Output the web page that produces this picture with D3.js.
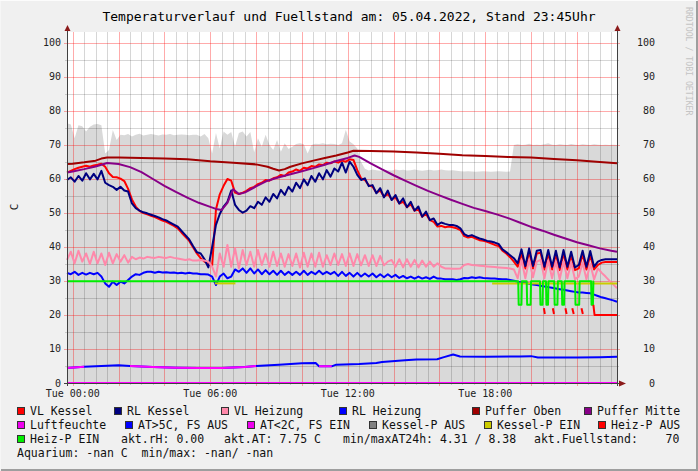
<!DOCTYPE html>
<html><head><meta charset="utf-8">
<script src="https://cdn.jsdelivr.net/npm/d3@7"></script>
<style>
html,body{margin:0;padding:0;background:#f0f0f0;}
svg text{font-family:"DejaVu Sans Mono",monospace;}
</style></head><body>
<svg id="c" width="698" height="471"></svg>
<script>
// ---------- DATA (10-minute samples starting 04.04.2022 23:45) ----------
const vlKessel = [61.9,62.4,62.9,63.3,63.6,63.9,63.6,64.0,64.2,64.5,63.6,61.7,60.6,60.5,60.1,59.4,57.1,54.0,51.9,50.6,50.0,49.6,49.2,48.8,48.3,47.8,47.4,46.8,46.2,45.5,44.2,43.0,41.8,39.9,38.1,
36.7,35.7,35.0,34.5,51.0,55.5,58.0,60.0,59.5,56.0,55.6,56.0,56.5,57.3,57.7,58.5,58.9,59.7,59.5,60.2,60.5,61.2,60.9,61.9,62.2,62.8,62.4,63.3,63.1,63.8,63.6,64.3,64.1,64.8,64.6,65.2,
64.8,65.4,65.1,65.8,65.6,62.6,60.2,59.7,58.2,57.7,56.0,56.6,54.8,55.6,54.0,54.6,52.8,53.3,51.7,52.6,50.7,51.1,48.9,49.7,47.9,47.4,46.0,46.2,45.8,46.0,45.8,45.5,45.0,43.2,42.8,
43.0,42.5,42.0,41.8,41.5,41.1,40.6,40.3,38.9,38.1,37.0,35.7,34.2,38.1,33.7,38.6,33.7,38.1,38.3,33.4,38.1,33.4,37.9,33.2,38.1,33.4,37.6,33.2,33.7,37.9,33.4,37.6,33.4,34.7,35.4,35.6,35.6,35.6,35.6];
const rlKessel = [59.7,60.5,59.2,60.9,59.5,61.7,59.9,61.5,59.9,62.4,58.9,58.2,57.7,56.8,57.7,56.6,56.3,52.8,51.4,50.7,50.2,49.9,49.5,49.1,48.7,48.2,47.8,47.2,46.6,46.0,44.7,43.5,42.2,40.3,38.5,
38.1,36.4,34.0,40.0,46.5,49.7,51.9,53.3,56.6,52.4,50.9,50.1,50.7,52.0,51.4,53.3,52.4,54.6,53.3,55.6,54.3,56.8,55.3,57.7,56.3,58.9,57.3,59.9,58.2,60.9,59.2,61.7,59.9,62.6,60.7,63.1,
62.2,64.8,61.9,65.1,63.6,61.2,59.7,60.2,57.9,58.2,55.8,57.3,54.6,56.6,53.8,55.3,52.8,54.3,51.7,53.3,50.7,51.9,48.9,50.4,47.9,48.4,46.5,47.2,46.8,46.5,46.5,46.2,45.5,43.8,43.2,
43.5,43.0,42.5,42.2,41.8,41.6,41.3,40.9,39.3,38.5,37.6,36.7,35.2,39.3,34.4,39.6,34.4,38.9,39.1,34.2,39.1,34.2,38.9,34.0,39.1,34.2,38.6,34.0,34.7,38.9,34.2,38.8,34.2,35.7,36.2,36.4,36.4,36.4,36.4];
const vlHeizung = [36.2,38.6,35.2,38.9,35.7,38.1,35.0,38.6,35.2,38.1,34.7,38.3,35.2,37.9,35.7,37.6,35.4,37.1,36.4,36.9,36.6,37.1,36.9,36.8,37.1,36.9,36.8,37.1,36.8,36.6,36.4,36.2,36.4,36.0,36.0,
36.2,36.0,35.7,34.2,31.3,38.1,34.2,40.6,34.2,39.6,33.7,39.1,34.7,38.6,34.2,39.1,34.7,38.1,34.2,38.6,34.4,38.1,34.2,37.9,34.4,38.1,34.0,38.3,34.2,38.1,34.2,38.3,34.2,37.6,34.7,38.1,
34.7,37.9,34.4,38.1,34.4,37.9,34.6,37.6,34.4,37.6,34.4,37.4,34.6,35.7,36.2,34.2,36.4,34.0,36.4,34.2,36.2,34.0,36.0,34.2,35.7,34.2,35.2,34.2,33.7,33.7,33.6,33.6,33.7,34.7,35.0,
34.7,34.6,34.5,34.4,34.3,34.2,34.1,34.0,33.9,33.8,33.7,33.4,30.8,36.2,30.8,36.2,31.1,35.7,36.2,30.8,36.0,30.8,35.7,30.5,35.7,30.8,35.4,30.5,31.3,35.4,30.5,35.0,30.5,33.7,32.4,31.3,30.1,29.0,27.9];
const rlHeizung = [32.4,32.0,32.7,31.8,32.4,31.9,32.4,32.0,32.4,31.3,29.3,28.3,29.8,28.8,29.8,29.3,30.3,31.3,32.0,31.8,32.4,32.7,32.7,32.4,32.7,32.5,32.6,32.4,32.5,32.3,32.4,32.2,32.4,32.2,32.2,
32.0,32.0,31.9,31.3,28.8,31.3,32.2,30.8,31.3,33.4,32.7,33.7,32.4,33.7,32.2,33.4,32.0,33.2,32.0,33.0,31.8,33.0,31.8,32.7,31.8,32.7,31.8,33.0,31.8,32.7,32.0,33.0,32.0,32.7,32.0,32.7,
31.5,32.7,31.5,32.4,31.3,32.4,31.3,32.2,31.3,32.2,31.1,32.0,31.1,32.0,31.1,31.8,30.9,31.5,30.8,31.3,30.7,31.3,30.7,31.1,30.6,31.3,30.7,30.7,30.5,30.5,30.5,30.3,30.5,30.9,30.8,
31.1,30.9,31.1,30.9,30.8,30.7,30.7,30.6,30.5,30.5,30.3,30.1,29.8,29.6,29.4,29.2,29.0,28.8,28.6,28.4,28.2,28.0,27.8,27.6,27.4,27.2,27.0,26.8,26.6,26.6,26.5,26.4,26.0,25.6,25.2,24.9,24.6,24.3,23.9];
const fuellstand = [76.4,76.0,72.0,75.8,75.5,74.0,75.4,76.0,76.2,75.8,67.5,68.5,74.4,71.5,73.0,72.9,73.2,72.5,73.0,73.3,72.8,73.0,73.2,73.0,72.8,73.1,73.0,73.2,72.9,73.0,73.1,73.0,72.9,73.0,73.0,
72.5,73.2,72.0,67.5,73.5,69.0,74.0,73.0,73.8,69.5,73.5,74.0,72.5,73.8,67.8,72.0,69.5,73.0,70.0,68.5,71.5,68.0,70.5,68.8,69.5,70.3,70.5,70.2,67.5,70.0,70.4,70.3,70.5,70.2,70.4,70.3,
70.0,70.5,74.5,71.0,70.2,69.0,65.0,63.0,
62.5,62.8,62.6,62.4,62.7,62.6,62.5,62.8,62.6,62.7,62.5,62.6,62.8,62.6,62.4,62.6,62.7,62.5,62.6,62.8,62.6,62.5,62.6,62.4,62.3,62.2,62.3,62.2,62.1,62.2,62.3,62.2,62.1,62.2,62.3,62.2,62.1,62.2,
70.0,70.2,70.0,70.1,70.4,70.0,70.1,70.0,70.2,70.5,70.1,70.0,70.2,70.1,70.0,70.3,70.1,70.0,70.2,70.1,70.0,70.2,70.1,70.0,70.1,70.0,70.1,70.0];

// Slow series: hours since 05.04.2022 00:00
const pufferObenTimes = [-0.25,0,0.5,1,1.25,1.5,2,3,4,5,6,7,8,8.5,8.75,9,9.25,9.5,10,10.5,11,11.5,12,12.25,13,14,15,16,17,18,19,20,21,22,23,23.75];
const pufferOben      = [64.4,64.5,64.9,65.4,66.0,66.3,66.3,66.2,66.0,65.8,65.2,64.8,64.3,63.6,63.0,62.5,62.9,63.6,64.6,65.4,66.2,66.9,67.8,68.3,68.2,68.1,67.8,67.4,67.0,66.8,66.5,66.3,65.9,65.5,65.0,64.6];
const pufferMitteTimes = [-0.25,0,0.5,1,1.5,2,2.5,3,3.5,4,4.5,5,5.5,6,6.25,6.5,6.75,7,7.25,7.5,8,8.5,9,9.5,10,10.5,11,11.5,12,12.3,12.5,13,13.5,14,14.5,15,15.5,16,16.5,17,17.5,18,18.5,19,19.5,20,20.5,21,21.5,22,22.5,23,23.5,23.75];
const pufferMitte      = [61.9,62.2,62.9,63.7,64.7,64.4,63.5,62.0,60.0,58.0,56.2,54.5,53.0,51.8,51.2,50.9,53.0,57.0,55.6,56.0,57.8,59.5,60.5,61.4,62.3,63.2,64.2,65.3,66.2,66.9,66.5,64.6,62.8,61.1,59.5,58.0,56.5,55.2,53.9,52.7,51.5,50.6,49.6,48.5,47.2,45.9,44.8,43.6,42.5,41.4,40.5,39.6,38.9,38.6];
const atTimes = [-0.25,0.5,1.5,2,2.5,3.5,4.5,5.5,6.5,7.5,8,9,10,10.6,10.75,11.3,11.5,12.5,13.25,13.5,14.5,15,15.9,16.2,16.6,16.9,18,19.5,20,20.3,22,23,23.75];
const aussenTemp = [4.4,4.8,5.1,5.2,5.0,4.7,4.5,4.4,4.4,4.7,5.0,5.4,5.8,5.9,4.9,4.9,5.4,5.6,5.9,6.2,6.7,6.9,7.0,7.6,8.38,7.8,7.7,7.8,7.9,7.5,7.5,7.6,7.75];
const luftTimes = [-0.25,3.75,7.75,11.75,15.75,19.75,23.75];
const luftfeuchte = [0,0,0,0,0,0,0];
// pump states: [from, to] in hours
const kesselPEinSpans = [[6.2,7.1],[18.3,23.75]];
const heizPEinDips = [[19.44,19.6],[19.81,20.0],[20.39,20.52],[20.65,20.76],[21.01,21.17],[21.34,21.46],[21.92,22.12],[22.62,22.72]];
const heizPAusSpikes = [[20.56,20.6],[20.95,21.0],[21.5,21.55],[21.8,21.86],[22.2,22.26]];
const heizPAusFlat = [22.72, 23.75];
const yTicks = [0,10,20,30,40,50,60,70,80,90,100];
const yMinor = [5,15,25,35,45,55,65,75,85,95];

// ---------- CHART ----------
const svg = d3.select('#c');
const W = 698, H = 471, L = 67, R = 617, TOP = 32, BOT = 383;
const T0 = new Date(2022, 3, 5, 0, 0, 0);
const hr = h => new Date(T0.getTime() + h * 3600000);
const x = d3.scaleTime().domain([hr(-0.25), hr(23.75)]).range([L, R]);
const y = d3.scaleLinear().domain([0, 103.235]).range([BOT, TOP]);
const sampleTimes = vlKessel.map((_, i) => -0.25 + i / 6);

svg.append('rect').attr('width', W).attr('height', H).attr('fill', '#f0f0f0');
svg.append('path').attr('d', `M0,${H-1}V0.5H${W-1}`).attr('stroke', '#fcfcfc').attr('fill', 'none');
svg.append('path').attr('d', `M1,${H-1}H${W-1}V1`).attr('stroke', '#9e9e9e').attr('stroke-width', 2).attr('fill', 'none');

svg.append('rect').attr('x', L).attr('y', TOP).attr('width', R - L).attr('height', BOT - TOP).attr('fill', '#ffffff');

// fill level area
svg.append('path').datum(fuellstand)
  .attr('fill', '#d9d9d9')
  .attr('d', d3.area().x((d, i) => x(hr(sampleTimes[i]))).y0(y(0)).y1(d => y(d)));

// grid
const gridG = svg.append('g');
const majorX = d3.timeHour.every(2).range(hr(-0.25), hr(23.76));
const majorSet = new Set(majorX.map(d => +d));
const minorX = d3.timeMinute.every(30).range(hr(-0.25), hr(23.76)).filter(d => !majorSet.has(+d));
minorX.forEach(d => gridG.append('line').attr('x1', Math.round(x(d)) + 0.5).attr('x2', Math.round(x(d)) + 0.5)
  .attr('y1', TOP).attr('y2', BOT + 2).attr('stroke', '#000').attr('stroke-opacity', 0.16));
yMinor.forEach(v => gridG.append('line').attr('y1', Math.round(y(v)) + 0.5).attr('y2', Math.round(y(v)) + 0.5)
  .attr('x1', L - 2).attr('x2', R + 2).attr('stroke', '#000').attr('stroke-opacity', 0.16));
majorX.forEach(d => gridG.append('line').attr('x1', Math.round(x(d)) + 0.5).attr('x2', Math.round(x(d)) + 0.5)
  .attr('y1', TOP).attr('y2', BOT + 3).attr('stroke', '#f00').attr('stroke-opacity', 0.33));
yTicks.forEach(v => gridG.append('line').attr('y1', Math.round(y(v)) + 0.5).attr('y2', Math.round(y(v)) + 0.5)
  .attr('x1', L - 3).attr('x2', R + 3).attr('stroke', '#f00').attr('stroke-opacity', 0.33));

function series(vals, times, color, w) {
  const pts = vals.map((v, i) => [times[i], v]);
  svg.append('path').datum(pts)
    .attr('fill', 'none').attr('stroke', color).attr('stroke-width', w || 2)
    .attr('stroke-linejoin', 'round')
    .attr('d', d3.line().defined(d => d[1] != null).x(d => x(hr(d[0]))).y(d => y(d[1])));
}

series(vlKessel, sampleTimes, '#ff0000');
series(rlKessel, sampleTimes, '#000080');
series(vlHeizung, sampleTimes, '#ff88aa');
series(rlHeizung, sampleTimes, '#0000ff');
series(pufferOben, pufferObenTimes, '#a00000');
series(pufferMitte, pufferMitteTimes, '#880088');
series(luftfeuchte, luftTimes, '#ff00ff');
series(aussenTemp, atTimes, '#0000ff');
series(aussenTemp.map(v => v < 5.05 ? v : null), atTimes, '#ff00ff');
kesselPEinSpans.forEach(s => series([29.3, 29.3], s, '#cccc00'));
(function(){
  const pts = [];
  let t = -0.25;
  heizPEinDips.forEach(([a, b]) => {
    pts.push([t, 29.9], [a, 29.9], [a + 0.02, 23.0], [b - 0.02, 23.0], [b, 29.9]);
    t = b;
  });
  pts.push([22.73, 29.9]);
  series(pts.map(p => p[1]), pts.map(p => p[0]), '#00ee00');
})();
heizPAusSpikes.forEach(s => series([22.0, 20.3], s, '#ff0000'));
series([23.0, 20.0, 20.0], [heizPAusFlat[0], heizPAusFlat[0] + 0.05, heizPAusFlat[1]], '#ff0000');

// axes
const axisC = '#404040', arrowC = '#8b1a1a';
svg.append('line').attr('x1', L + 0.5).attr('x2', L + 0.5).attr('y1', 29).attr('y2', BOT + 3).attr('stroke', axisC);
svg.append('line').attr('x1', R + 0.5).attr('x2', R + 0.5).attr('y1', 29).attr('y2', BOT + 3).attr('stroke', axisC);
svg.append('line').attr('x1', L - 3).attr('x2', R + 5).attr('y1', BOT + 0.5).attr('y2', BOT + 0.5).attr('stroke', axisC);
[L, R].forEach(ax => svg.append('path').attr('d', `M${ax + 0.5},25L${ax - 2.5},31H${ax + 3.5}Z`).attr('fill', arrowC));
svg.append('path').attr('d', `M${R + 9},${BOT + 0.5}L${R + 2},${BOT - 2.5}V${BOT + 3.5}Z`).attr('fill', arrowC);

// tick labels
svg.append('g').selectAll('text').data(yTicks).join('text')
  .attr('x', 61).attr('y', d => y(d) + 3.5).attr('text-anchor', 'end')
  .attr('font-size', 10).attr('fill', '#222').text(d => d);
svg.append('g').selectAll('text').data(yTicks).join('text')
  .attr('x', 655).attr('y', d => y(d) + 3.5).attr('text-anchor', 'end')
  .attr('font-size', 10).attr('fill', '#222').text(d => d);
const fmt = d3.timeFormat('%a %H:%M');
svg.append('g').selectAll('text').data(d3.timeHour.every(6).range(hr(-0.25), hr(23.76))).join('text')
  .attr('x', d => x(d)).attr('y', 397).attr('text-anchor', 'middle')
  .attr('font-size', 10).attr('fill', '#222').text(d => fmt(d));

svg.append('text').attr('transform', 'translate(18,207) rotate(-90)').attr('text-anchor', 'middle')
  .attr('font-size', 11).attr('fill', '#222').text('C');

svg.append('text').attr('x', 349).attr('y', 21).attr('text-anchor', 'middle')
  .attr('font-size', 13).attr('fill', '#000').text('Temperaturverlauf und Fuellstand am: 05.04.2022, Stand 23:45Uhr');

svg.append('text').attr('transform', 'translate(686,7) rotate(90)')
  .attr('font-size', 8.2).attr('fill', '#c4c4c4').text('RRDTOOL / TOBI OETIKER');

// legend
const legendRows = [
  [[17, '#ff0000', 'VL Kessel'], [114, '#000080', 'RL Kessel'], [221, '#ff88aa', 'VL Heizung'], [339, '#0000ff', 'RL Heizung'], [472, '#a00000', 'Puffer Oben'], [584, '#880088', 'Puffer Mitte']],
  [[17, '#ee00ee', 'Luftfeuchte'], [125, '#0000ff', 'AT>5C, FS AUS'], [247, '#ee00ee', 'AT<2C, FS EIN'], [369, '#808080', 'Kessel-P AUS'], [484, '#cccc00', 'Kessel-P EIN'], [598, '#ff0000', 'Heiz-P AUS']],
  [[17, '#00ee00', 'Heiz-P EIN'], [121, null, 'akt.rH: 0.00'], [224, null, 'akt.AT: 7.75 C'], [343, null, 'min/maxAT24h: 4.31 / 8.38'], [534, null, 'akt.Fuellstand:    70']],
  [[17, null, 'Aquarium: -nan C  min/max: -nan/ -nan']]
];
legendRows.forEach((row, r) => {
  const by = 415 + r * 14;
  row.forEach(([lx, col, txt]) => {
    let tx = lx;
    if (col) {
      svg.append('rect').attr('x', lx + 0.5).attr('y', by - 7.5).attr('width', 7).attr('height', 7)
        .attr('fill', col).attr('stroke', '#333');
      tx = lx + 13;
    }
    svg.append('text').attr('x', tx).attr('y', by).attr('font-size', 11.5).attr('fill', '#111')
      .style('white-space', 'pre').text(txt);
  });
});
</script>
</body></html>
